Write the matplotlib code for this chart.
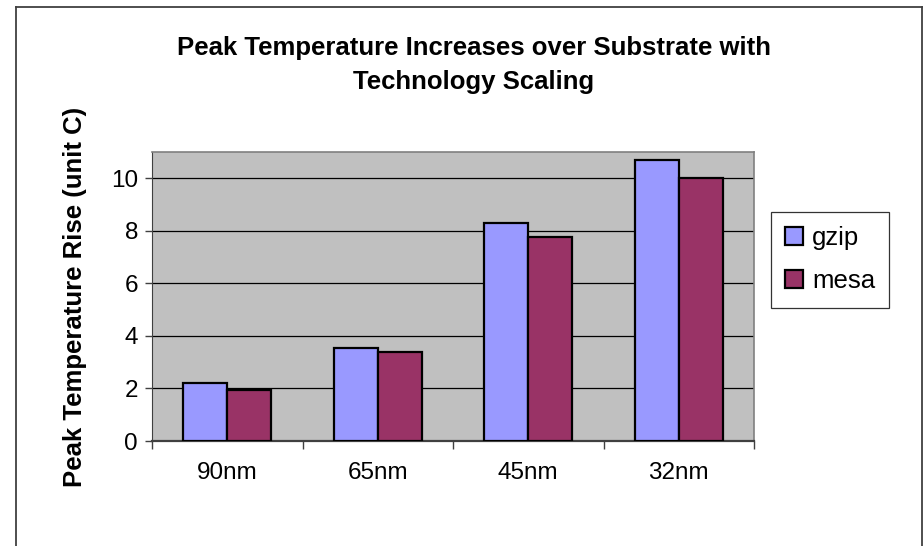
import matplotlib
matplotlib.use("Agg")
import matplotlib.pyplot as plt
from matplotlib.lines import Line2D
import numpy as np

# ── DATA ──────────────────────────────────────────────────────────────────────
nodes = ["90nm", "65nm", "45nm", "32nm"]
gzip = [2.2, 3.55, 8.3, 10.7]
mesa = [1.95, 3.4, 7.75, 10.0]

plt.rcParams["font.family"] = ["Liberation Sans", "DejaVu Sans"]

W, H = 923, 546
fig = plt.figure(figsize=(W / 100, H / 100), dpi=100)
fig.patch.set_facecolor("white")

# outer chart frame (open at the bottom)
fx = lambda px: px / W
fy = lambda py: 1 - py / H
for xs, ys in [([16, 16], [7, 546]), ([16, 922], [7, 7]), ([922, 922], [7, 546])]:
    fig.add_artist(Line2D([fx(v) for v in xs], [fy(v) for v in ys],
                          color="#404040", lw=1.3))

ax = fig.add_axes([fx(152), fy(441), fx(754) - fx(152), fy(152) - fy(441)])
ax.set_facecolor("#C0C0C0")

x = np.arange(len(nodes))
w = 0.292
ax.bar(x - w / 2, gzip, w, color="#9999FF", edgecolor="black", lw=1.6,
       label="gzip", zorder=3)
ax.bar(x + w / 2, mesa, w, color="#993366", edgecolor="black", lw=1.6,
       label="mesa", zorder=3)

ax.set_xlim(-0.5, 3.5)
ax.set_ylim(0, 11)
ax.set_yticks(range(0, 11, 2))
ax.yaxis.grid(True, color="black", lw=0.9, zorder=1)
ax.set_axisbelow(True)

# category labels centred, tick marks on the category boundaries
ax.set_xticks(x)
ax.set_xticklabels(nodes, fontsize=17.5)
ax.tick_params(axis="x", length=0, pad=15)
ax.set_xticks(np.arange(-0.5, 4, 1), minor=True)
ax.tick_params(axis="x", which="minor", length=6, width=1, color="#404040")
ax.tick_params(axis="y", length=5, width=1, labelsize=17.5, pad=5, color="#404040")

for s in ["top", "right"]:
    ax.spines[s].set_color("#808080")
    ax.spines[s].set_linewidth(1.2)
ax.spines["left"].set_color("#404040")
ax.spines["bottom"].set_color("#404040")
ax.spines["bottom"].set_linewidth(1.6)

ax.set_ylabel("Peak Temperature Rise (unit C)", fontsize=18.5, fontweight="bold",
              labelpad=17)

fig.text(0.5 * (fx(16) + fx(922)) + 0.005, fy(65),
         "Peak Temperature Increases over Substrate with\nTechnology Scaling",
         ha="center", va="center", fontsize=18.5, fontweight="bold",
         linespacing=1.55)

leg = ax.legend(loc="upper left", bbox_to_anchor=(fx(771), fy(212)),
                bbox_transform=fig.transFigure, fontsize=18.5, frameon=True,
                fancybox=False, edgecolor="black", handlelength=0.7,
                handleheight=0.7, handletextpad=0.35, labelspacing=0.75,
                borderpad=0.55, borderaxespad=0)
leg.get_frame().set_linewidth(0.9)
for h in leg.legend_handles:
    h.set_linewidth(1.6)

fig.savefig("out.png", dpi=100)
